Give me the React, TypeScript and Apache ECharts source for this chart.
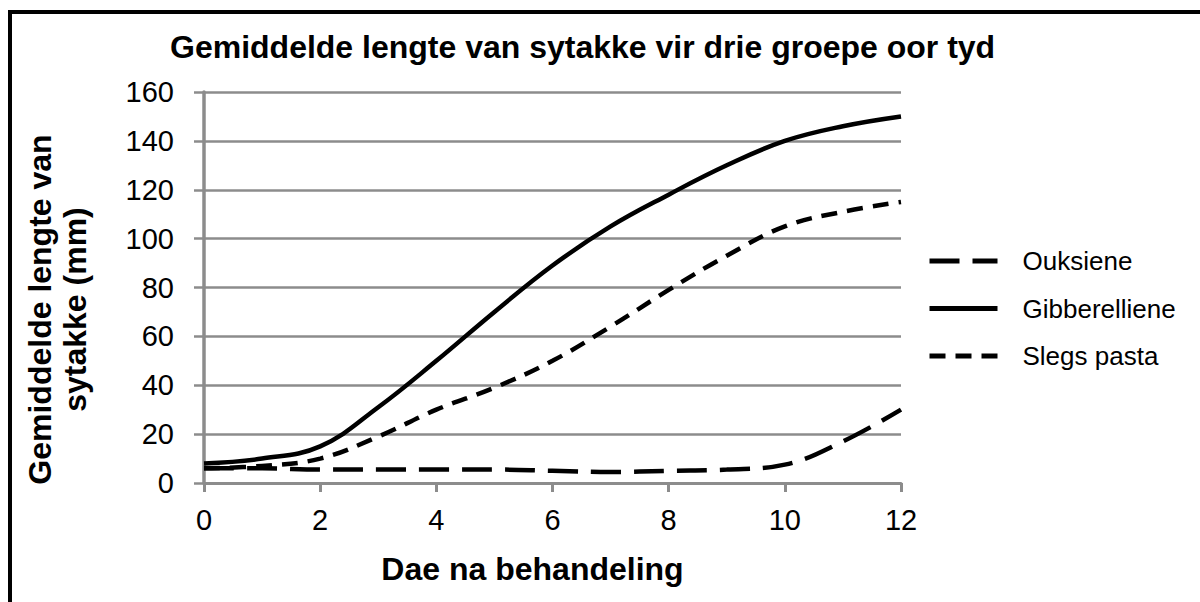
import React, { useEffect, useRef } from "react";
import * as echarts from "echarts";

const days = [0, 1, 2, 3, 4, 5, 6, 7, 8, 9, 10, 11, 12];
const ouksiene = [6, 6, 5.5, 5.5, 5.5, 5.5, 5, 4.5, 5, 5.5, 7.5, 17, 30];
const gibberelliene = [8, 10, 15, 31, 50, 70, 89, 105, 118, 130, 140, 146, 150];
const slegsPasta = [6, 7, 10, 19, 30, 39, 50, 64, 79, 93, 105, 111, 115];
const seriesNames = ["Ouksiene", "Gibberelliene", "Slegs pasta"];
const titleText = "Gemiddelde lengte van sytakke vir drie groepe oor tyd";
const xName = "Dae na behandeling";
const yName = "Gemiddelde lengte van\nsytakke (mm)";

const FONT = "'Liberation Sans', Arial, sans-serif";
const GRAY = "#8c8c8c";

export default function App() {
  const ref = useRef<HTMLDivElement>(null);
  useEffect(() => {
    document.body.style.margin = "0";
    if (!ref.current) return;
    const chart = echarts.init(ref.current, null, { renderer: "svg" });
    const pairs = (arr: number[]) => days.map((d, i) => [d, arr[i]]);
    chart.setOption({
      animation: false,
      backgroundColor: "#fff",
      textStyle: { fontFamily: FONT },
      title: {
        text: titleText,
        left: 165,
        top: 26,
        textStyle: { fontFamily: FONT, fontWeight: "bold", fontSize: 32, color: "#000" },
      },
      grid: { left: 204, right: 299, top: 92, bottom: 119, containLabel: false },
      legend: {
        orient: "vertical",
        left: 922,
        top: 243,
        itemWidth: 68,
        itemHeight: 20,
        itemGap: 21.5,
        itemStyle: { color: "rgba(0,0,0,0)", borderWidth: 0, opacity: 0 },
        lineStyle: { width: 5, color: "#000" },
        textStyle: { fontFamily: FONT, fontSize: 26, color: "#000", padding: [0, 0, 0, 20] },
        data: seriesNames,
      },
      xAxis: {
        type: "value",
        min: 0,
        max: 12,
        interval: 2,
        name: xName,
        nameLocation: "middle",
        nameGap: 70,
        nameTextStyle: {
          fontFamily: FONT,
          fontWeight: "bold",
          fontSize: 32,
          color: "#000",
          padding: [0, 40, 0, 0],
        },
        axisLine: { lineStyle: { color: GRAY, width: 3 } },
        axisTick: { length: 9, lineStyle: { color: GRAY, width: 3 } },
        axisLabel: { fontFamily: FONT, fontSize: 29, color: "#000", margin: 22 },
        splitLine: { show: false },
      },
      yAxis: {
        type: "value",
        min: 0,
        max: 160,
        interval: 20,
        name: yName,
        nameLocation: "middle",
        nameGap: 112,
        nameTextStyle: {
          fontFamily: FONT,
          fontWeight: "bold",
          fontSize: 32,
          color: "#000",
          lineHeight: 35,
          padding: [0, 44, 0, 0],
        },
        axisLine: { show: true, lineStyle: { color: GRAY, width: 3.5 } },
        axisTick: { show: true, length: 10, lineStyle: { color: GRAY, width: 2.5 } },
        axisLabel: { fontFamily: FONT, fontSize: 29, color: "#000", margin: 30 },
        splitLine: { lineStyle: { color: GRAY, width: 2.5 } },
      },
      graphic: [
        {
          type: "rect",
          shape: { x: 10, y: 12, width: 1260, height: 700 },
          style: { fill: "none", stroke: "#000", lineWidth: 4 },
          silent: true,
        },
      ],
      series: [
        {
          name: seriesNames[0],
          type: "line",
          data: pairs(ouksiene),
          smooth: 0.4,
          showSymbol: false,
          symbol: "none",
          lineStyle: { color: "#000", width: 4.5, type: [30, 13] },
          itemStyle: { color: "#000" },
          z: 3,
        },
        {
          name: seriesNames[1],
          type: "line",
          data: pairs(gibberelliene),
          smooth: 0.4,
          showSymbol: false,
          symbol: "none",
          lineStyle: { color: "#000", width: 4.5, type: "solid" },
          itemStyle: { color: "#000" },
          z: 3,
        },
        {
          name: seriesNames[2],
          type: "line",
          data: pairs(slegsPasta),
          smooth: 0.4,
          showSymbol: false,
          symbol: "none",
          lineStyle: { color: "#000", width: 4.5, type: [16, 10] },
          itemStyle: { color: "#000" },
          z: 3,
        },
      ],
    });
    return () => chart.dispose();
  }, []);
  return <div ref={ref} style={{ width: 1200, height: 602 }} />;
}
